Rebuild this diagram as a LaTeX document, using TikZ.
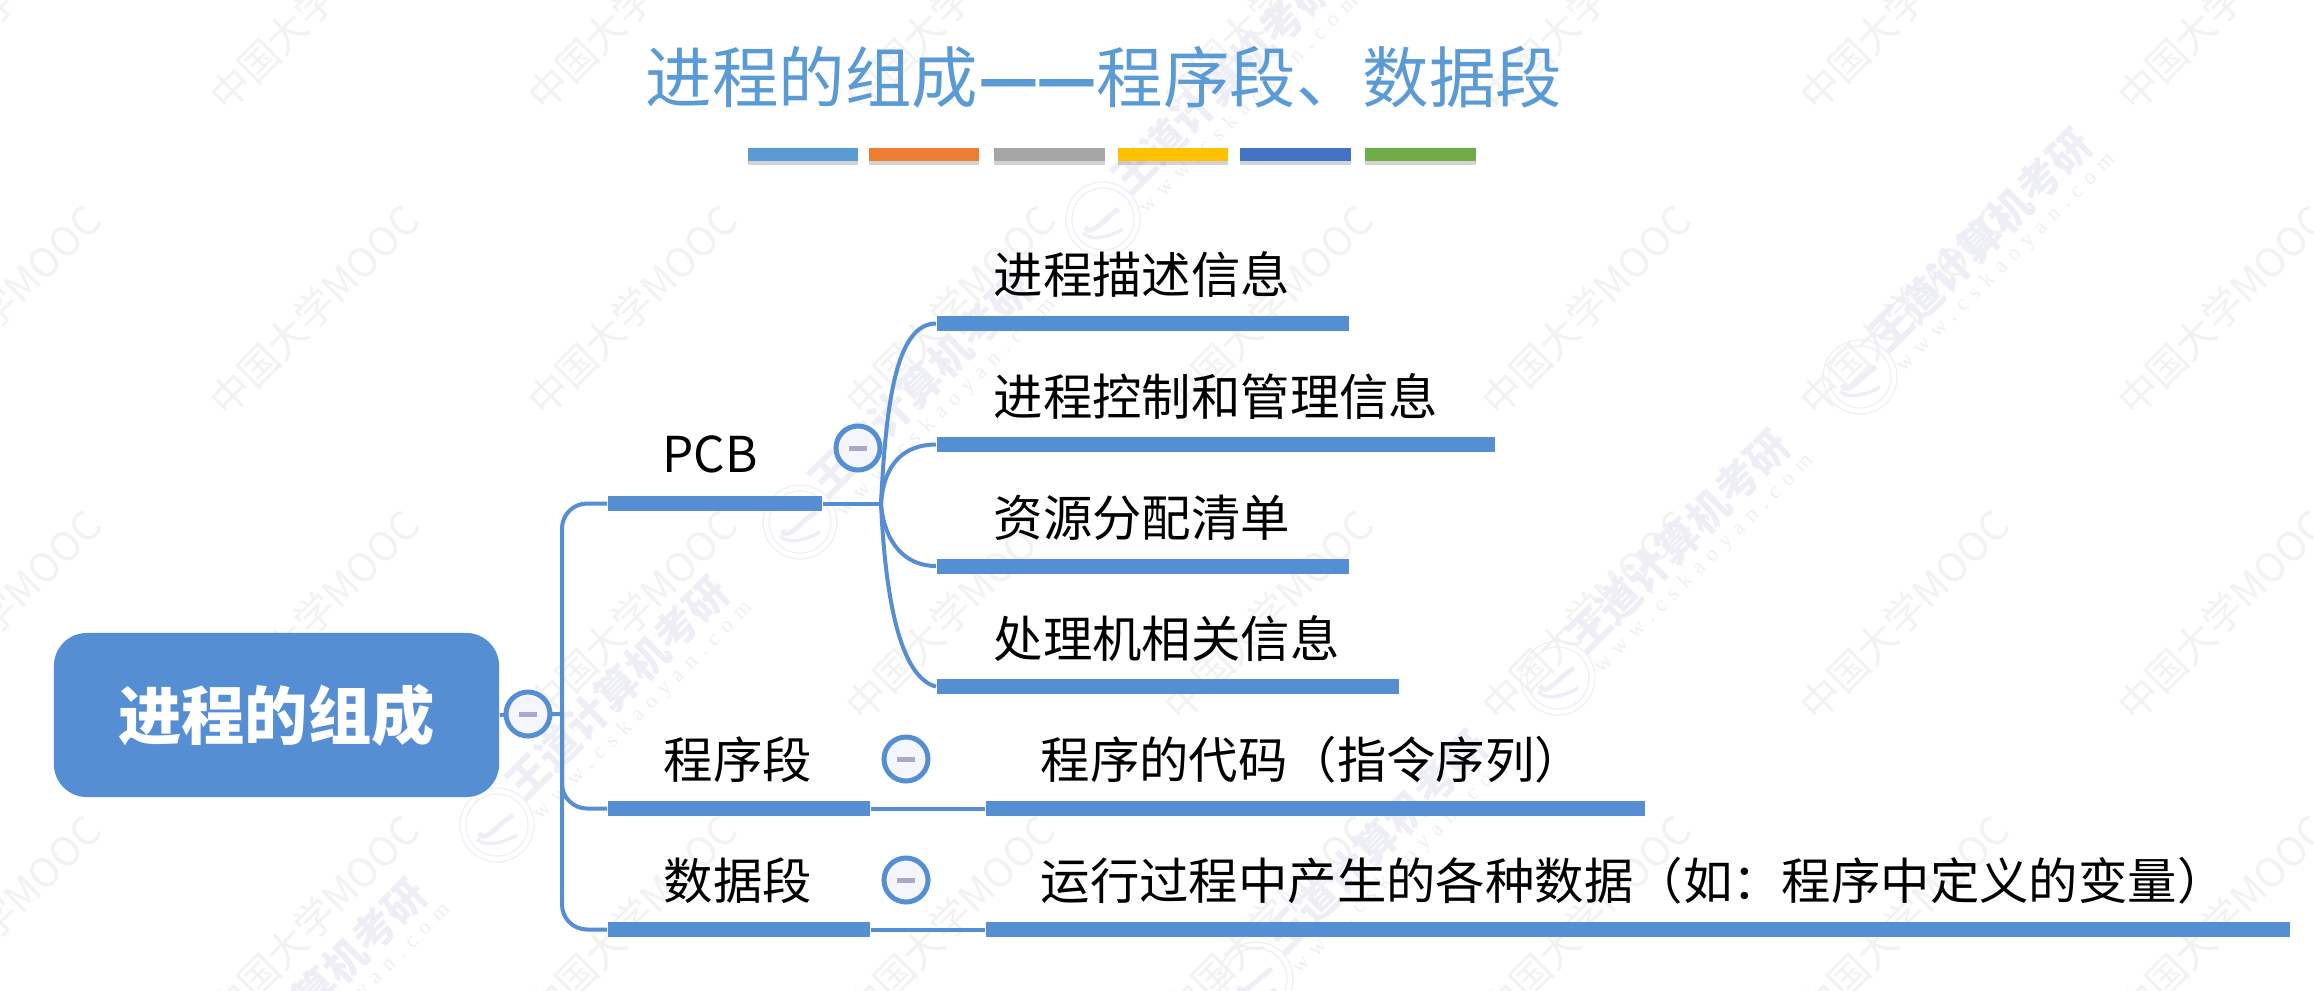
\documentclass[tikz,border=0pt]{standalone}
\usepackage{fontspec}
\setmainfont{Noto Sans CJK SC}
\newfontfamily\urlfont[LetterSpace=38]{Liberation Serif}
\usepackage{xcolor}
\usetikzlibrary{calc,shadows}
\definecolor{mapblue}{HTML}{568ED4}
\definecolor{titleblue}{HTML}{5B9BD5}
\definecolor{wmgray}{HTML}{F2F2F3}
\definecolor{wmviolet}{HTML}{EEEEF6}
\definecolor{foldbar}{HTML}{A9A9CC}
\definecolor{foldfill}{HTML}{F5F6FB}
\definecolor{rbA}{HTML}{5B9BD5}
\definecolor{rbB}{HTML}{ED7D31}
\definecolor{rbC}{HTML}{A5A5A5}
\definecolor{rbD}{HTML}{FFC000}
\definecolor{rbE}{HTML}{4472C4}
\definecolor{rbF}{HTML}{70AD47}
\tikzset{
    rootbox/.style={fill=mapblue, text=white, rounded corners=0.33cm, inner sep=0, minimum width=4.45cm, minimum height=1.64cm, font=\fontsize{18pt}{20pt}\selectfont\bfseries},
    barline/.style={fill=mapblue, inner sep=0, minimum height=0.15cm, anchor=west},
    linkline/.style={draw=mapblue, line width=0.04cm},
    itemtext/.style={inner sep=0, anchor=base west, font=\fontsize{14.05pt}{16pt}\selectfont},
    foldmark/.style={circle, draw=mapblue, line width=0.05cm, fill=foldfill, inner sep=0, minimum size=0.44cm},
    foldminus/.style={draw=foldbar, line width=0.05cm},
    ribbon/.style={inner sep=0, minimum width=1.1cm, minimum height=0.13cm, drop shadow={shadow xshift=0cm, shadow yshift=-0.04cm, opacity=0.35}},
    wmmooc/.style={text=wmgray, rotate=45, inner sep=0, font=\fontsize{11.3pt}{13pt}\selectfont},
    wmbrand/.style={text=wmviolet, rotate=45, inner sep=0, font=\fontsize{11.9pt}{14pt}\selectfont\bfseries},
    wmurl/.style={text=wmviolet, rotate=45, inner sep=0, font=\fontsize{6.2pt}{8pt}\urlfont},
    wmseal/.style={circle, draw=wmviolet, line width=0.012cm, inner sep=0, minimum size=0.74cm},
}
\begin{document}
\begin{tikzpicture}[x=0.01cm,y=-0.01cm]
    \useasboundingbox (0,0) rectangle (2314,990);
    % watermark
    \foreach \mx in {-4,314,...,2222} {
        \foreach \my in {5,310,615,920} {
            \node[wmmooc] (mooc\mx-\my) at (\mx,\my) {中国大学MOOC};
        }
    }
    \foreach \i/\sx/\sy in {1/195/1127,2/497/825,3/800/522,4/1103/219,5/1256/979,6/1558/678,7/1860/377} {
        \node[wmseal] (seal\i) at (\sx,\sy) {};
        \node[wmseal, minimum size=0.62cm] (sealin\i) at (\sx,\sy) {};
        \draw[wmviolet, line width=0.05cm] ($(seal\i)+(-18,8)$) .. controls +(5,12) and +(-14,8) .. ($(seal\i)+(16,-10)$);
        \draw[wmviolet, line width=0.035cm] ($(seal\i)+(-20,14)$) .. controls +(10,10) and +(-10,6) .. ($(seal\i)+(20,10)$);
        \node[wmbrand] (brand\i) at ($(seal\i)+(120,-137)$) {王道计算机考研};
        \node[wmurl] (url\i) at ($(seal\i)+(146,-114)$) {www.cskaoyan.com};
    }

    % title
    \node[inner sep=0, anchor=base, text=titleblue, font=\fontsize{18.9pt}{22pt}\selectfont] (title) at (1104,102) {进程的组成{\bfseries —\hspace{-0.03cm}—}程序段、数据段};
    \foreach \c/\rx in {rbA/803,rbB/924,rbC/1049.5,rbD/1173,rbE/1295.5,rbF/1420.5} {
        \node[ribbon, fill=\c] (ribbon\c) at (\rx,154.5) {};
    }

    % tree
    \node[rootbox] (root) at (276.5,715) {进程的组成};
    \coordinate (spine) at (562,714);
    \coordinate (pcbhub) at (881,503.5);
    \node[barline, minimum width=2.14cm] (pcb) at (607,503.5) {};
    \node[barline, minimum width=2.62cm] (seg) at (607,808.5) {};
    \node[barline, minimum width=2.62cm] (dat) at (607,929.5) {};
    \node[barline, minimum width=6.59cm] (segcode) at (985,808.5) {};
    \node[barline, minimum width=13.04cm] (datrun) at (985,929.5) {};
    \node[barline, minimum width=4.12cm] (desc) at (936,323.5) {};
    \node[barline, minimum width=5.58cm] (ctrl) at (936,444.5) {};
    \node[barline, minimum width=4.12cm] (res) at (936,566) {};
    \node[barline, minimum width=4.62cm] (cpu) at (936,686.5) {};

    \draw[linkline] (root.east) -- (spine);
    \draw[linkline, rounded corners=0.25cm] (spine) |- (pcb.west);
    \draw[linkline, rounded corners=0.25cm] (spine) |- (seg.west);
    \draw[linkline, rounded corners=0.25cm] (spine) |- (dat.west);
    \draw[linkline] (pcb.east) -- (pcbhub);
    \draw[linkline] (seg.east) -- (segcode.west);
    \draw[linkline] (dat.east) -- (datrun.west);
    \draw[linkline] (pcbhub) .. controls +(5,-100) and +(-40,0) .. (desc.west);
    \draw[linkline] (pcbhub) .. controls +(3,-40) and +(-32,0) .. (ctrl.west);
    \draw[linkline] (pcbhub) .. controls +(3,38) and +(-32,0) .. (res.west);
    \draw[linkline] (pcbhub) .. controls +(5,110) and +(-32,-8) .. (cpu.west);

    \node[foldmark] (rootfold) at (528,714) {};
    \node[foldmark] (pcbfold) at (858,448) {};
    \node[foldmark] (segfold) at (906,759) {};
    \node[foldmark] (datfold) at (906,880) {};
    \foreach \f in {rootfold,pcbfold,segfold,datfold} {
        \draw[foldminus] ($(\f)+(-9,0)$) -- ($(\f)+(9,0)$);
    }

    \node[itemtext] (pcbtext) at (662,472) {PCB};
    \node[itemtext] (segtext) at (663,778) {程序段};
    \node[itemtext] (dattext) at (663,899) {数据段};
    \node[itemtext] (desctext) at (993,293) {进程描述信息};
    \node[itemtext] (ctrltext) at (993,415) {进程控制和管理信息};
    \node[itemtext] (restext) at (993,536) {资源分配清单};
    \node[itemtext] (cputext) at (993,657) {处理机相关信息};
    \node[itemtext] (codetext) at (1040,778) {程序的代码（指令序列）};
    \node[itemtext] (runtext) at (1040,899) {运行过程中产生的各种数据（如：程序中定义的变量）};
\end{tikzpicture}
\end{document}
